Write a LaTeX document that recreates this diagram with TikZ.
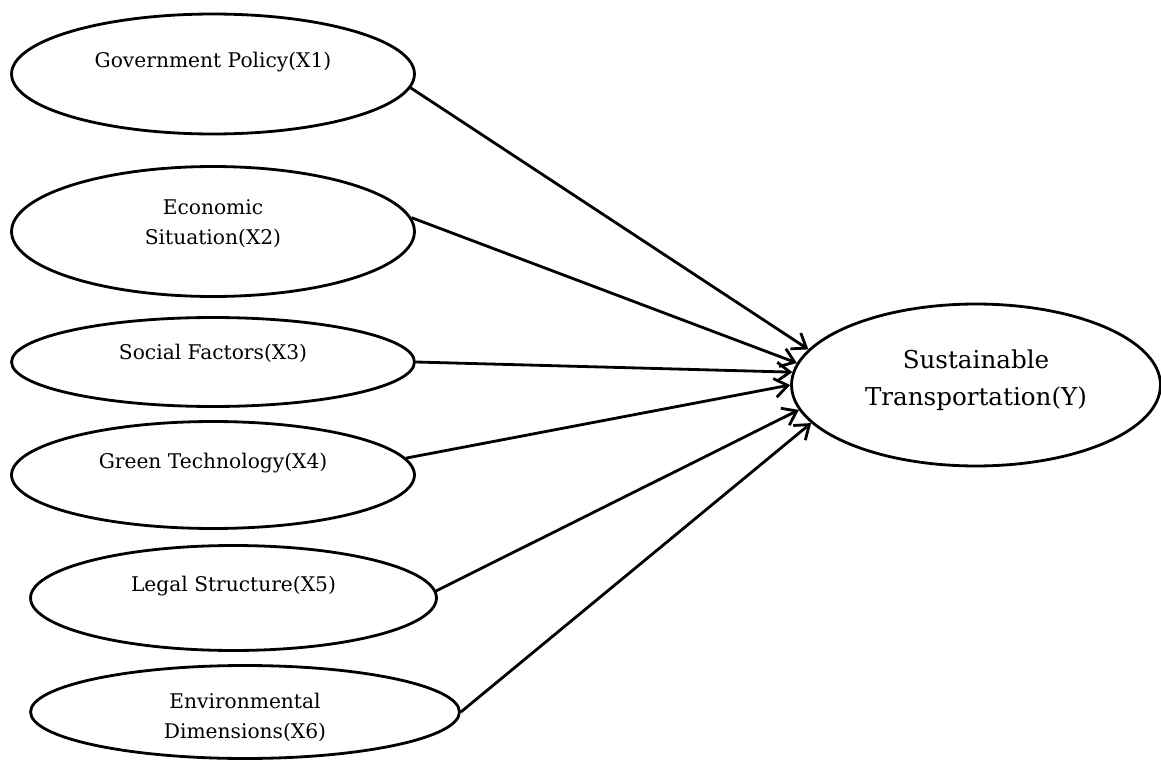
\documentclass[tikz,border=0pt]{standalone}
\usepackage{fontspec}
\setmainfont{DejaVu Serif}
\usetikzlibrary{shapes.geometric,arrows.meta}

\begin{document}
\begin{tikzpicture}[x=0.02cm, y=-0.02cm,
  var/.style={ellipse, draw, line width=1.6pt, inner sep=0pt},
  lbl/.style={font=\fontsize{11.5}{17}\selectfont, align=center},
  big/.style={font=\fontsize{14}{21}\selectfont, align=center},
  path/.style={line width=1.6pt, -{Straight Barb[length=2.6mm,width=3.8mm]}}]
  \useasboundingbox (0,0) rectangle (1161,764);
  \node[var, minimum width=8.06cm, minimum height=2.4cm,
        label={[lbl, yshift=0.24cm]center:Government Policy(X1)}] (x1) at (213,74) {};
  \node[var, minimum width=8.06cm, minimum height=2.6cm,
        label={[lbl, yshift=0.15cm]center:Economic\\Situation(X2)}] (x2) at (213,231.5) {};
  \node[var, minimum width=8.06cm, minimum height=1.78cm,
        label={[lbl, yshift=0.18cm]center:Social Factors(X3)}] (x3) at (213,362) {};
  \node[var, minimum width=8.06cm, minimum height=2.14cm,
        label={[lbl, yshift=0.24cm]center:Green Technology(X4)}] (x4) at (213,475) {};
  \node[var, minimum width=8.12cm, minimum height=2.1cm,
        label={[lbl, yshift=0.24cm]center:Legal Structure(X5)}] (x5) at (233.5,598) {};
  \node[var, minimum width=8.58cm, minimum height=1.86cm,
        label={[lbl, yshift=-0.11cm]center:Environmental\\Dimensions(X6)}] (x6) at (245,712) {};
  \node[var, minimum width=7.38cm, minimum height=3.24cm,
        label={[big, yshift=0.1cm]center:Sustainable\\Transportation(Y)}] (y) at (976,385) {};
  \draw[path] (x1.-4.2) -- (y.168);
  \draw[path] (x2.4.7) -- (y.173);
  \draw[path] (x3.0) -- (y.176.6);
  \draw[path] (x4.5.4) -- (y.180);
  \draw[path] (x5.2.2) -- (y.-172.4);
  \draw[path] (x6.0) -- (y.-167.6);
\end{tikzpicture}
\end{document}
